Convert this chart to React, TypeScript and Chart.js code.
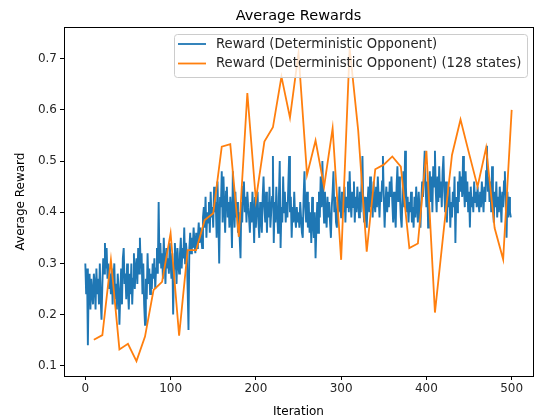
import React, { useEffect, useRef } from "react";
import { Chart, registerables } from "chart.js";

Chart.register(...registerables);

const chartTitle = "Average Rewards";
const xAxisLabel = "Iteration";
const yAxisLabel = "Average Reward";
const blueLabel = "Reward (Deterministic Opponent)";
const orangeLabel = "Reward (Deterministic Opponent) (128 states)";

const xTicks = [0, 100, 200, 300, 400, 500];
const yTicks = [0.1, 0.2, 0.3, 0.4, 0.5, 0.6, 0.7];

// blue: one value per iteration, 0..499
const blueRewards = [
  0.30, 0.24, 0.29, 0.14, 0.27, 0.28, 0.21, 0.27, 0.24, 0.22,
  0.28, 0.26, 0.21, 0.29, 0.24, 0.27, 0.22, 0.30, 0.23, 0.19,
  0.26, 0.31, 0.28, 0.34, 0.29, 0.33, 0.27, 0.30, 0.25, 0.28,
  0.24, 0.29, 0.22, 0.27, 0.30, 0.23, 0.26, 0.21, 0.28, 0.25,
  0.18, 0.24, 0.29, 0.22, 0.31, 0.33, 0.26, 0.28, 0.23, 0.30,
  0.25, 0.21, 0.28, 0.24, 0.30, 0.22, 0.27, 0.32, 0.25, 0.29,
  0.31, 0.26, 0.33, 0.28, 0.35, 0.29, 0.32, 0.24, 0.30, 0.22,
  0.18, 0.27, 0.23, 0.32, 0.26, 0.29, 0.24, 0.28, 0.25, 0.30,
  0.27, 0.31, 0.25, 0.29, 0.33, 0.28, 0.42, 0.30, 0.34, 0.29,
  0.32, 0.27, 0.35, 0.30, 0.26, 0.33, 0.29, 0.31, 0.28, 0.34,
  0.30, 0.27, 0.32, 0.20, 0.29, 0.34, 0.31, 0.26, 0.33, 0.30,
  0.28, 0.32, 0.35, 0.29, 0.33, 0.31, 0.37, 0.30, 0.34, 0.32,
  0.25, 0.17, 0.33, 0.36, 0.32, 0.35, 0.33, 0.37, 0.34, 0.32,
  0.36, 0.33, 0.35, 0.38, 0.34, 0.37, 0.35, 0.33, 0.39, 0.41,
  0.37, 0.43, 0.35, 0.40, 0.38, 0.42, 0.36, 0.44, 0.39, 0.41,
  0.37, 0.45, 0.40, 0.42, 0.35, 0.46, 0.39, 0.30, 0.43, 0.41,
  0.48, 0.38, 0.47, 0.41, 0.36, 0.44, 0.45, 0.39, 0.42, 0.37,
  0.43, 0.40, 0.33, 0.48, 0.41, 0.37, 0.44, 0.39, 0.42, 0.36,
  0.40, 0.35, 0.31, 0.42, 0.38, 0.45, 0.46, 0.40, 0.43, 0.38,
  0.44, 0.41, 0.39, 0.36, 0.42, 0.38, 0.44, 0.40, 0.34, 0.43,
  0.37, 0.41, 0.44, 0.38, 0.35, 0.42, 0.39, 0.36, 0.43, 0.47,
  0.41, 0.38, 0.44, 0.36, 0.42, 0.39, 0.45, 0.37, 0.40, 0.43,
  0.51, 0.34, 0.42, 0.38, 0.45, 0.40, 0.36, 0.43, 0.50, 0.33,
  0.41, 0.38, 0.47, 0.40, 0.44, 0.38, 0.42, 0.39, 0.45, 0.51,
  0.40, 0.43, 0.35, 0.41, 0.38, 0.44, 0.39, 0.37, 0.41, 0.38,
  0.40, 0.37, 0.42, 0.39, 0.36, 0.35, 0.43, 0.48, 0.41, 0.38,
  0.44, 0.37, 0.42, 0.36, 0.40, 0.34, 0.43, 0.38, 0.35, 0.40,
  0.31, 0.37, 0.42, 0.36, 0.44, 0.39, 0.47, 0.41, 0.50, 0.43,
  0.38, 0.44, 0.40, 0.37, 0.43, 0.39, 0.42, 0.38, 0.35, 0.41,
  0.44, 0.48, 0.40, 0.43, 0.38, 0.37, 0.42, 0.40, 0.45, 0.41,
  0.39, 0.44, 0.42, 0.40, 0.45, 0.38, 0.43, 0.41, 0.46, 0.40,
  0.48, 0.42, 0.39, 0.44, 0.41, 0.46, 0.38, 0.43, 0.40, 0.45,
  0.42, 0.39, 0.44, 0.40, 0.46, 0.51, 0.41, 0.38, 0.43, 0.39,
  0.37, 0.42, 0.45, 0.40, 0.47, 0.41, 0.44, 0.39, 0.46, 0.42,
  0.40, 0.45, 0.41, 0.47, 0.43, 0.39, 0.44, 0.42, 0.46, 0.51,
  0.43, 0.37, 0.42, 0.45, 0.40, 0.44, 0.41, 0.46, 0.43, 0.47,
  0.42, 0.38, 0.44, 0.40, 0.37, 0.45, 0.49, 0.42, 0.47, 0.43,
  0.39, 0.37, 0.44, 0.48, 0.41, 0.52, 0.45, 0.40, 0.43, 0.38,
  0.42, 0.40, 0.44, 0.38, 0.41, 0.37, 0.43, 0.39, 0.45, 0.41,
  0.38, 0.44, 0.40, 0.37, 0.42, 0.46, 0.43, 0.48, 0.52, 0.45,
  0.41, 0.46, 0.37, 0.44, 0.48, 0.42, 0.47, 0.40, 0.49, 0.45,
  0.52, 0.44, 0.40, 0.47, 0.42, 0.49, 0.43, 0.46, 0.41, 0.48,
  0.51, 0.44, 0.40, 0.46, 0.38, 0.43, 0.41, 0.45, 0.37, 0.42,
  0.39, 0.44, 0.41, 0.47, 0.34, 0.43, 0.40, 0.46, 0.42, 0.48,
  0.44, 0.47, 0.43, 0.51, 0.45, 0.41, 0.48, 0.42, 0.46, 0.40,
  0.44, 0.37, 0.45, 0.41, 0.43, 0.40, 0.46, 0.42, 0.44, 0.41,
  0.45, 0.42, 0.40, 0.44, 0.41, 0.46, 0.43, 0.40, 0.45, 0.42,
  0.48, 0.53, 0.44, 0.47, 0.42, 0.46, 0.40, 0.49, 0.43, 0.38,
  0.44, 0.41, 0.46, 0.39, 0.43, 0.40, 0.45, 0.42, 0.38, 0.44,
  0.41, 0.46, 0.48, 0.42, 0.35, 0.44, 0.39, 0.43, 0.40, 0.39,
];

// orange: every 10 iterations, 10..500
const orangeIterations = [
  10, 20, 30, 40, 50, 60, 70, 80, 90, 100,
  110, 120, 130, 140, 150, 160, 170, 180, 190, 200,
  210, 220, 230, 240, 250, 260, 270, 280, 290, 300,
  310, 320, 330, 340, 350, 360, 370, 380, 390, 400,
  410, 420, 430, 440, 450, 460, 470, 480, 490, 500,
];
const orangeRewards = [
  0.151, 0.160, 0.307, 0.132, 0.143, 0.109, 0.157, 0.248, 0.264, 0.359,
  0.159, 0.326, 0.326, 0.385, 0.398, 0.528, 0.533, 0.352, 0.633, 0.424,
  0.538, 0.566, 0.665, 0.585, 0.711, 0.473, 0.540, 0.450, 0.564, 0.307,
  0.721, 0.560, 0.323, 0.484, 0.493, 0.509, 0.489, 0.330, 0.339, 0.520,
  0.204, 0.360, 0.512, 0.581, 0.515, 0.450, 0.526, 0.369, 0.308, 0.600,
];

const BLUE = "#1f77b4";
const ORANGE = "#ff7f0e";
const FONT = "'DejaVu Sans', sans-serif";

const framePlugin = {
  id: "mplFrame",
  afterDraw(chart: any) {
    const { ctx, chartArea } = chart;
    const { left, right, top, bottom } = chartArea;
    ctx.save();
    // spines
    ctx.strokeStyle = "#000";
    ctx.lineWidth = 1;
    ctx.strokeRect(Math.round(left) + 0.5, Math.round(top) + 0.5, Math.round(right - left), Math.round(bottom - top));
    // title
    ctx.fillStyle = "#000";
    ctx.font = `14.5px ${FONT}`;
    ctx.textAlign = "center";
    ctx.textBaseline = "alphabetic";
    ctx.fillText(chartTitle, (left + right) / 2, top - 7);
    // legend
    const lx = 174.5, ly = 34.5, lw = 353, lh = 43;
    const r = 3;
    ctx.beginPath();
    ctx.moveTo(lx + r, ly);
    ctx.lineTo(lx + lw - r, ly);
    ctx.quadraticCurveTo(lx + lw, ly, lx + lw, ly + r);
    ctx.lineTo(lx + lw, ly + lh - r);
    ctx.quadraticCurveTo(lx + lw, ly + lh, lx + lw - r, ly + lh);
    ctx.lineTo(lx + r, ly + lh);
    ctx.quadraticCurveTo(lx, ly + lh, lx, ly + lh - r);
    ctx.lineTo(lx, ly + r);
    ctx.quadraticCurveTo(lx, ly, lx + r, ly);
    ctx.closePath();
    ctx.fillStyle = "rgba(255,255,255,0.8)";
    ctx.fill();
    ctx.strokeStyle = "#cccccc";
    ctx.lineWidth = 1;
    ctx.stroke();
    const items = chart.data.datasets;
    ctx.font = `13.2px ${FONT}`;
    ctx.textAlign = "left";
    ctx.textBaseline = "middle";
    items.forEach((ds: any, i: number) => {
      const yy = 44 + i * 19.5;
      ctx.strokeStyle = ds.borderColor;
      ctx.lineWidth = 1.8;
      ctx.beginPath();
      ctx.moveTo(178, yy);
      ctx.lineTo(206, yy);
      ctx.stroke();
      ctx.fillStyle = "#262626";
      ctx.fillText(ds.label, 216, yy + 0.5);
    });
    ctx.restore();
  },
};

export default function App() {
  const canvasRef = useRef<HTMLCanvasElement | null>(null);

  useEffect(() => {
    const canvas = canvasRef.current;
    if (!canvas) return;
    const blueData = blueRewards.map((v, i) => ({ x: i, y: v }));
    const orangeData = orangeRewards.map((v, i) => ({ x: orangeIterations[i], y: v }));
    const tickFont = { family: FONT, size: 12 };
    const chart = new Chart(canvas, {
      type: "line",
      data: {
        datasets: [
          {
            label: blueLabel,
            data: blueData,
            borderColor: BLUE,
            backgroundColor: BLUE,
            borderWidth: 1.9,
            pointRadius: 0,
            tension: 0,
            order: 2,
          },
          {
            label: orangeLabel,
            data: orangeData,
            borderColor: ORANGE,
            backgroundColor: ORANGE,
            borderWidth: 1.8,
            pointRadius: 0,
            tension: 0,
            order: 1,
          },
        ],
      },
      options: {
        responsive: false,
        animation: false,
        events: [],
        layout: { padding: { left: 8, right: 7, top: 27, bottom: 0 } },
        plugins: {
          legend: { display: false },
          title: { display: false },
          tooltip: { enabled: false },
        },
        scales: {
          x: {
            type: "linear",
            min: -25,
            max: 525,
            afterBuildTicks: (scale: any) => {
              scale.ticks = xTicks.map((v) => ({ value: v }));
            },
            afterFit: (scale: any) => {
              scale.height = 43;
            },
            ticks: {
              font: tickFont,
              color: "#262626",
              padding: 2,
              maxRotation: 0,
              autoSkip: false,
              callback: (v: any) => String(v),
            },
            grid: {
              display: true,
              drawOnChartArea: false,
              drawTicks: true,
              tickLength: 4,
              color: "#000",
            },
            border: { display: true, color: "#000" },
            title: {
              display: true,
              text: xAxisLabel,
              font: { family: FONT, size: 12 },
              color: "#000",
              padding: { top: 0, bottom: 0 },
            },
          },
          y: {
            type: "linear",
            min: 0.08,
            max: 0.762,
            afterBuildTicks: (scale: any) => {
              scale.ticks = yTicks.map((v) => ({ value: v }));
            },
            afterFit: (scale: any) => {
              scale.width = 56;
            },
            ticks: {
              font: tickFont,
              color: "#262626",
              padding: 3,
              autoSkip: false,
              callback: (v: any) => Number(v).toFixed(1),
            },
            grid: {
              display: true,
              drawOnChartArea: false,
              drawTicks: true,
              tickLength: 4,
              color: "#000",
            },
            border: { display: true, color: "#000" },
            title: {
              display: true,
              text: yAxisLabel,
              font: { family: FONT, size: 12 },
              color: "#000",
              padding: { top: 6, bottom: 0 },
            },
          },
        },
      },
      plugins: [framePlugin],
    } as any);
    return () => chart.destroy();
  }, []);

  return (
    <div style={{ position: "fixed", left: 0, top: 0, width: 540, height: 419, background: "#fff" }}>
      <canvas ref={canvasRef} width={540} height={419} style={{ display: "block" }} />
    </div>
  );
}
